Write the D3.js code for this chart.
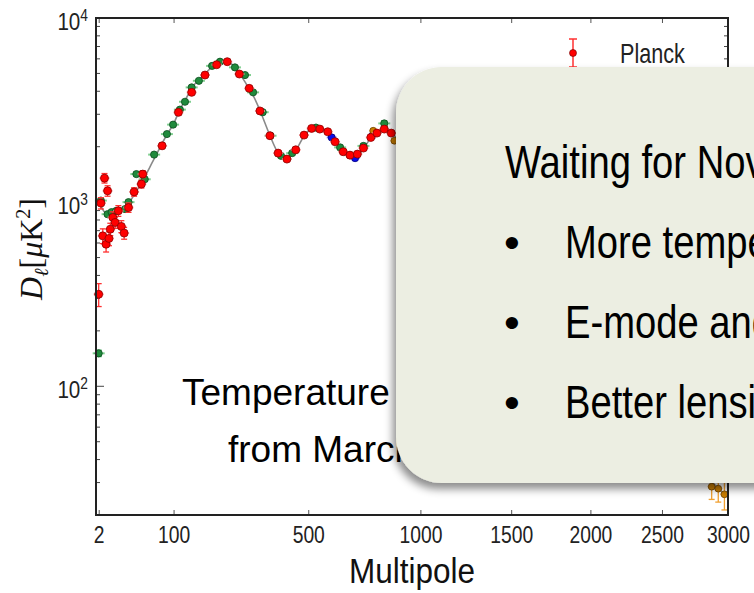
<!DOCTYPE html>
<html><head><meta charset="utf-8">
<script src="https://cdn.jsdelivr.net/npm/d3@7"></script>
<style>body{margin:0;background:#fff;overflow:hidden} svg{display:block}</style>
</head><body><svg id="c" width="754" height="593"></svg>
<script>
// ---------------- data ----------------
const theoryL = [2,3,4,6,8,10,13,16,20,25,30,35,40,45,50,57,64,75,87,99,113,125,140,156,171,189,210,229,252,265,282,295,307,329,345,362,390,421,450,484,513,545,577,607,641,670,692,720,762,790,824,857,900,950,1000,1050,1100,1150,1200,1250,1300,1350,1400,1450,1500,1550,1600,1650,1700,1750,1800,1900,2000,2100,2200,2300,2400,2500,2600,2700,2800,2900,3000];
const theoryD = [1030,960,910,870,855,850,860,875,905,960,1030,1110,1200,1290,1390,1550,1720,2000,2330,2630,3180,3600,4200,4620,4980,5420,5750,5760,5400,5000,4500,4100,3800,3150,2700,2300,1850,1720,1880,2280,2500,2510,2400,2150,1900,1790,1760,1880,2230,2400,2490,2400,2050,1550,1200,1080,1120,1200,1130,950,780,700,720,770,740,640,520,440,420,420,390,300,225,175,135,105,82,65,52,42,35,29,25];

const planckL   = [2,3,4,5,6,7,8,9,11,13,16,19,22,27,34,44,46,78,110,139,171,201,230,265,295,329,362,390,421,453,484,513,545,577,607,641,670,702,729,762,790,824,857];
const planckD   = [316,988,656,1350,591,1152,635,713,826,776,897,738,679,935,1137,1253,1420,2023,3073,3947,4900,5575,5790,4963,4150,3128,2295,1846,1713,1924,2312,2514,2493,2411,2128,1878,1800,1823,1966,2245,2371,2493,2371];
const planckErr = [45,70,60,80,55,75,55,55,60,55,60,55,50,55,60,60,60,70,90,100,110,120,120,110,90,70,55,45,40,45,50,55,55,55,50,45,45,45,50,55,60,65,65];

const wmapL   = [2,3,7,10,14,23,27,37,49,64,87,99,113,124,139,156,189,210,252,282,307,338,364,400,440,530,628,670,729,824];
const wmapD   = [151,1020,860,883,897,917,1000,1420,1331,1812,2342,2636,3180,3508,4199,4560,5495,5790,5393,4900,3947,3079,2295,1785,1846,2540,1983,1800,2020,2676];
const wmapErr = [6,25,20,20,20,20,25,35,35,45,55,60,70,75,90,100,110,120,110,100,80,65,50,40,45,60,55,55,60,90];

const actL   = [593,692,770];
const actD   = [2245,1734,2300];
const actErr = [60,50,60];

const sptL   = [773,872,2873,2924,2972];
const sptD   = [2442,2155,28.5,27.8,25.9];
const sptErr = [60,55,4.2,4.3,4.6];

const xTickValues = [2,100,500,1000,1500,2000,2500,3000];
const yMajorTicks = [100,1000,10000];
const yTickExps   = ["2","3","4"];
const legendNames = ["Planck"];
const xLabel = "Multipole";
const overlayLines = ["Temperature","from March 2013"];
const boxTitle = "Waiting for November 2014:";
const boxBullets = ["More temperature and polarization data","E-mode and B-mode polarization spectra","Better lensing reconstruction"];

// ---------------- setup ----------------
const svg = d3.select("#c");
const L = 96, R = 728, T = 18, B = 515;
const x = d3.scalePow().exponent(0.6).domain([1,3000]).range([L,R]);
const y = d3.scaleLog().domain([20,10000]).range([B,T]);
const sans = "'Liberation Sans',Arial,sans-serif";

// narrow text: horizontally compressed group
function ntext(parent, px, py, sx, anchor, size) {
  return parent.append("g").attr("transform",`translate(${px},${py}) scale(${sx},1)`)
    .append("text").attr("x",0).attr("y",0).attr("text-anchor",anchor)
    .attr("font-family",sans).attr("font-size",size);
}

const defs = svg.append("defs");
const f = defs.append("filter").attr("id","sh").attr("x","-10%").attr("y","-10%").attr("width","130%").attr("height","130%");
f.append("feDropShadow").attr("dx",-3).attr("dy",6).attr("stdDeviation",4)
  .attr("flood-color","#000").attr("flood-opacity",0.45);

// ---------------- axes ----------------
const gx = svg.append("g").attr("transform",`translate(0,${B})`)
  .call(d3.axisBottom(x).tickValues(xTickValues).tickSize(-5).tickPadding(12).tickFormat(d3.format("d")));
gx.select(".domain").remove();
gx.selectAll("line").attr("stroke","#555");
gx.selectAll("text").attr("font-family",sans).attr("font-size",23).attr("fill","#222")
  .attr("transform","scale(0.84,1)");

const gxt = svg.append("g").attr("transform",`translate(0,${T})`)
  .call(d3.axisTop(x).tickValues(xTickValues).tickSize(-5).tickFormat(""));
gxt.select(".domain").remove();
gxt.selectAll("line").attr("stroke","#555");

const minor = y.ticks().filter(v => !yMajorTicks.includes(v));
[[L,1],[R,-1]].forEach(([xx,dir]) => {
  const g = svg.append("g");
  g.selectAll("line.mj").data(yMajorTicks).join("line")
    .attr("x1",xx).attr("x2",xx+dir*8).attr("y1",d=>y(d)).attr("y2",d=>y(d)).attr("stroke","#444");
  g.selectAll("line.mn").data(minor).join("line")
    .attr("x1",xx).attr("x2",xx+dir*4).attr("y1",d=>y(d)).attr("y2",d=>y(d)).attr("stroke","#444");
});

// y tick labels with superscripts
yMajorTicks.forEach((v,i) => {
  const t = ntext(svg, 88, y(v)+11.5, 0.86, "end", 24).attr("fill","#222");
  t.append("tspan").text("10");
  t.append("tspan").attr("dy",-9).attr("font-size",16).text(yTickExps[i]);
});

// x label
ntext(svg, (L+R)/2, 583, 0.9, "middle", 35).attr("fill","#111").text(xLabel);

// y label
const yl = svg.append("text").attr("transform","translate(42,249) rotate(-90)")
  .attr("text-anchor","middle").attr("font-family","'Liberation Serif','DejaVu Serif',serif")
  .attr("font-size",32).attr("fill","#111");
yl.append("tspan").attr("font-style","italic").text("D");
yl.append("tspan").attr("font-size",20).attr("dy",6).attr("font-style","italic").text("ℓ");
yl.append("tspan").attr("dy",-6).text("[");
yl.append("tspan").attr("font-style","italic").text("μ");
yl.append("tspan").text("K");
yl.append("tspan").attr("font-size",20).attr("dy",-12).text("2");
yl.append("tspan").attr("dy",12).text("]");

// ---------------- theory ----------------
const theory = theoryL.map((l,i)=>({l, d:theoryD[i]}));
svg.append("path").datum(theory)
  .attr("d", d3.line().x(d=>x(d.l)).y(d=>y(d.d)).curve(d3.curveMonotoneX))
  .attr("fill","none").attr("stroke","#8a8a8a").attr("stroke-width",1.6);

// ---------------- data points ----------------
function series(Ls, Ds, Es, st) {
  const pts = Ls.map((l,i)=>({l, d:Ds[i], e:Es[i]}));
  const g = svg.append("g");
  g.selectAll("line.h").data(pts).join("line")
    .attr("x1",d=>x(d.l)-st.hw).attr("x2",d=>x(d.l)+st.hw)
    .attr("y1",d=>y(d.d)).attr("y2",d=>y(d.d)).attr("stroke",st.halo).attr("stroke-width",2);
  g.selectAll("line.v").data(pts).join("line")
    .attr("x1",d=>x(d.l)).attr("x2",d=>x(d.l))
    .attr("y1",d=>y(d.d+d.e)).attr("y2",d=>y(Math.max(d.d-d.e,1))).attr("stroke",st.err).attr("stroke-width",1.3);
  ["top","bot"].forEach(k=>{
    g.selectAll("line."+k).data(pts).join("line")
      .attr("x1",d=>x(d.l)-3).attr("x2",d=>x(d.l)+3)
      .attr("y1",d=>k==="top"?y(d.d+d.e):y(d.d-d.e))
      .attr("y2",d=>k==="top"?y(d.d+d.e):y(d.d-d.e))
      .attr("stroke",st.err).attr("stroke-width",1.3);
  });
  g.selectAll("circle").data(pts).join("circle")
    .attr("cx",d=>x(d.l)).attr("cy",d=>y(d.d)).attr("r",st.r)
    .attr("fill",st.fill).attr("stroke",st.stroke).attr("stroke-width",0.8);
}
series(wmapL, wmapD, wmapErr, {fill:"#1f8a3c",stroke:"#0d4d1e",err:"#3caa5a",halo:"#7fcf8f",r:3.6,hw:6});
series(actL, actD, actErr, {fill:"#0a0ae8",stroke:"#00007a",err:"#6a6aff",halo:"#9a9aff",r:3.6,hw:5});
series(sptL, sptD, sptErr, {fill:"#c97d00",stroke:"#6e4300",err:"#f0a030",halo:"#f6c680",r:3.4,hw:4});
series(planckL, planckD, planckErr, {fill:"#ff0000",stroke:"#8a0000",err:"#ff3030",halo:"#ffaaaa",r:4,hw:5});

// frame
svg.append("rect").attr("x",L).attr("y",T).attr("width",R-L).attr("height",B-T)
  .attr("fill","none").attr("stroke","#222").attr("stroke-width",2);

// ---------------- legend ----------------
legendNames.forEach((n,i)=>{
  const cy = 53 + i*37;
  const g = svg.append("g");
  g.append("line").attr("x1",573).attr("x2",573).attr("y1",cy-14).attr("y2",cy+14).attr("stroke","#ff3030").attr("stroke-width",1.5);
  g.append("line").attr("x1",569).attr("x2",577).attr("y1",cy-14).attr("y2",cy-14).attr("stroke","#ff3030").attr("stroke-width",1.5);
  g.append("line").attr("x1",569).attr("x2",577).attr("y1",cy+14).attr("y2",cy+14).attr("stroke","#ff3030").attr("stroke-width",1.5);
  g.append("circle").attr("cx",573).attr("cy",cy).attr("r",3.5).attr("fill","#ff0000").attr("stroke","#600").attr("stroke-width",0.6);
  ntext(g, 620, cy+10, 0.8, "start", 27).attr("fill","#222").text(n);
});

// ---------------- slide overlays ----------------
svg.append("text").attr("x",182).attr("y",405).attr("font-family",sans).attr("font-size",37).attr("fill","#000").text(overlayLines[0]);
svg.append("text").attr("x",228).attr("y",462).attr("font-family",sans).attr("font-size",37).attr("fill","#000").text(overlayLines[1]);

svg.append("rect").attr("x",396).attr("y",67).attr("width",420).attr("height",416)
  .attr("rx",46).attr("ry",46).attr("fill","#eceee2").attr("filter","url(#sh)");

const bt = svg.append("g").attr("fill","#000");
ntext(bt, 505, 178, 0.83, "start", 46).text(boxTitle);
boxBullets.forEach((s,i)=>{
  const by = 258 + i*80;
  bt.append("text").attr("x",504).attr("y",by).attr("font-family",sans).attr("font-size",45).text("•");
  ntext(bt, 565, by, 0.83, "start", 46).text(s);
});
</script></body></html>
